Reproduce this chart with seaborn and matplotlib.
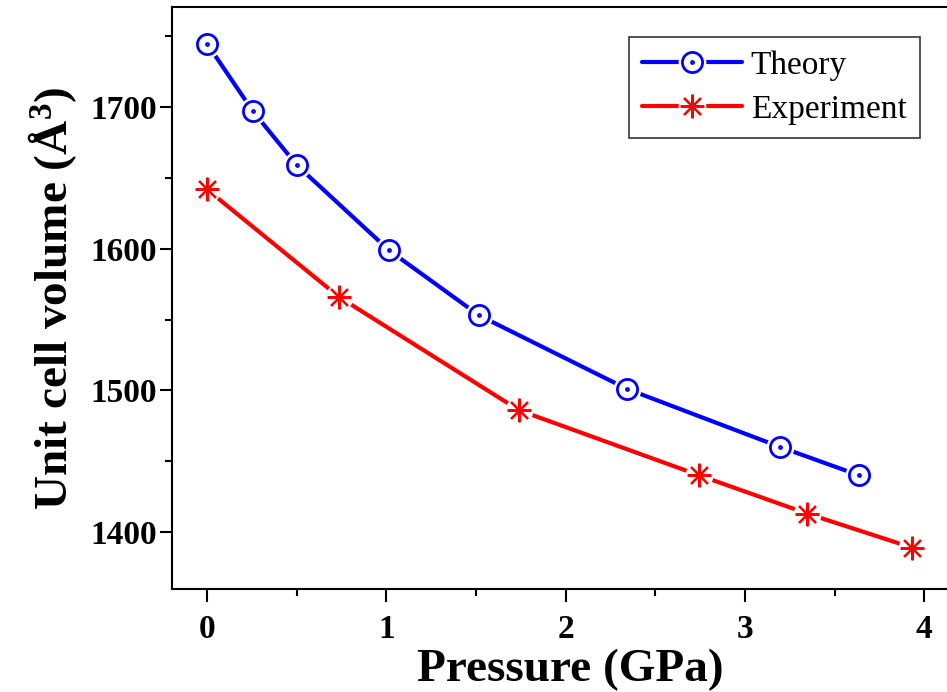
import numpy as np
import pandas as pd
import matplotlib
matplotlib.use("Agg")
import matplotlib.pyplot as plt
from matplotlib.path import Path
from matplotlib.legend_handler import HandlerTuple
from matplotlib.ticker import MultipleLocator
import seaborn as sns

# ---- data ----
theory_p = [0.0, 0.257, 0.502, 1.015, 1.517, 2.343, 3.197, 3.637]
theory_v = [1745, 1697, 1659, 1599, 1553, 1501, 1460, 1440]
exp_p = [0.0, 0.736, 1.740, 2.745, 3.347, 3.930]
exp_v = [1642, 1566, 1486, 1440, 1413, 1389]
x_ticks = [0, 1, 2, 3, 4]
y_ticks = [1400, 1500, 1600, 1700]

sns.set_style("ticks")
plt.rcParams["font.family"] = ["Liberation Serif", "DejaVu Serif"]
plt.rcParams["mathtext.default"] = "regular"
plt.rcParams["text.color"] = "black"
plt.rcParams["axes.labelcolor"] = "black"
plt.rcParams["xtick.color"] = "black"
plt.rcParams["ytick.color"] = "black"

fig = plt.figure(figsize=(9.47, 6.92), dpi=100)
W, H = 947, 692
left, right_px, top, bottom = 172, 969, 7, 589
ax = fig.add_axes([left / W, (H - bottom) / H, (right_px - left) / W, (bottom - top) / H])

df_t = pd.DataFrame({"p": theory_p, "v": theory_v})
df_e = pd.DataFrame({"p": exp_p, "v": exp_v})

circ_dot = Path.make_compound_path(Path.circle((0, 0), 1.0), Path.circle((0, 0), 0.1))
blue = "#0000ff"
red = "#ff0000"

# lines
sns.lineplot(data=df_t, x="p", y="v", ax=ax, color=blue, lw=3.0, sort=False,
             estimator=None, zorder=2, legend=False)
sns.lineplot(data=df_e, x="p", y="v", ax=ax, color=red, lw=3.0, sort=False,
             estimator=None, zorder=2, legend=False)
lt, le = ax.lines[0], ax.lines[1]

# white gaps around markers
sns.lineplot(data=df_t, x="p", y="v", ax=ax, linestyle="none", marker="o", ms=20,
             mfc="white", mec="none", sort=False, estimator=None, zorder=3, legend=False)
sns.lineplot(data=df_e, x="p", y="v", ax=ax, linestyle="none", marker="o", ms=20,
             mfc="white", mec="none", sort=False, estimator=None, zorder=3, legend=False)
# markers
sns.lineplot(data=df_t, x="p", y="v", ax=ax, linestyle="none", marker=circ_dot, ms=14.5,
             mfc="none", mec=blue, mew=2.0, sort=False, estimator=None, zorder=4, legend=False)
sns.lineplot(data=df_e, x="p", y="v", ax=ax, linestyle="none", marker=(8, 2, 0), ms=17,
             mec=red, mew=1.6, sort=False, estimator=None, zorder=4, legend=False)
wt, we, mt, me = ax.lines[2], ax.lines[3], ax.lines[4], ax.lines[5]

ax.set_xlim(-0.195, 4.25)
ax.set_ylim(1359.7, 1770.8)
ax.set_xticks(x_ticks)
ax.set_yticks(y_ticks)
ax.xaxis.set_minor_locator(MultipleLocator(0.5))
ax.yaxis.set_minor_locator(MultipleLocator(50))

for s in ax.spines.values():
    s.set_linewidth(1.5)
    s.set_color("black")
ax.tick_params(which="major", direction="out", length=9, width=1.5, labelsize=24,
               color="black", labelcolor="black")
ax.tick_params(which="minor", direction="out", length=5, width=1.5, color="black")
ax.tick_params(axis="x", which="major", pad=9)
ax.tick_params(axis="y", which="major", pad=2)
for lab in ax.get_xticklabels() + ax.get_yticklabels():
    lab.set_fontweight("bold")

ax.set_xlabel("Pressure (GPa)", fontsize=34, fontweight="bold", labelpad=3, color="black")
ax.set_ylabel("Unit cell volume (Å$^{3}$)", fontsize=34, fontweight="bold", labelpad=8,
              color="black")

leg = ax.legend([(lt, wt, mt), (le, we, me)], ["Theory", "Experiment"],
                handler_map={tuple: HandlerTuple(ndivide=1, pad=0)},
                loc="upper right", bbox_to_anchor=(920 / W, 1 - 37 / H),
                bbox_transform=fig.transFigure, fontsize=24, frameon=True,
                fancybox=False, edgecolor="black", handlelength=3.0,
                handletextpad=0.25, labelspacing=0.4, borderpad=0.4, borderaxespad=0)
leg.get_frame().set_linewidth(1.2)
for t in leg.get_texts():
    t.set_color("black")

fig.savefig("out.png", dpi=100)
